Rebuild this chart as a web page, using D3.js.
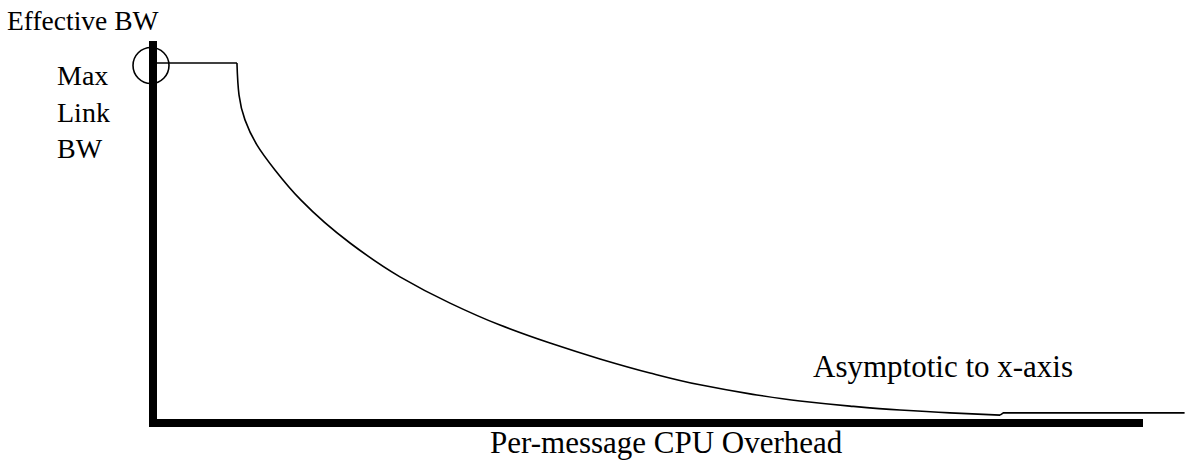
<!DOCTYPE html>
<html>
<head>
<meta charset="utf-8">
<script src="https://cdn.jsdelivr.net/npm/d3@7"></script>
<style>
  body { margin: 0; background: #fff; }
  svg text { font-family: "Liberation Serif", "Times New Roman", serif; fill: #000; }
</style>
</head>
<body>
<svg id="chart" width="1185" height="461"></svg>
<script>
// per-message overhead (x) vs effective bandwidth (y), % of full scale
const overhead = [0, 8.48, 8.69, 9.29, 10.51, 12.32, 14.95, 19.9, 24.95, 30.0, 35.05, 40.1, 45.15, 50.2, 55.25, 60.3, 65.35, 70.4, 75.45, 80.5, 85.56];
const bandwidth = [100, 100, 91.1, 84.2, 77.2, 70.3, 61.9, 50.0, 40.6, 33.3, 27.2, 22.2, 17.8, 13.9, 10.6, 8.1, 6.1, 4.7, 3.6, 2.8, 2.2];
// flat tail after the curve
const tailOverhead = [85.56, 85.9, 104.2];
const tailBandwidth = [2.2, 2.8, 2.8];

const svg = d3.select("#chart");

const x = d3.scaleLinear().domain([0, 100]).range([153, 1143]);
const y = d3.scaleLinear().domain([0, 100]).range([423, 63]);

const line = d3.line()
  .x(d => x(d[0]))
  .y(d => y(d[1]));

const pts = d3.zip(overhead, bandwidth);

// flat part at max link bw
svg.append("path")
  .attr("d", line(pts.slice(0, 2)))
  .attr("fill", "none")
  .attr("stroke", "#000")
  .attr("stroke-width", 1.6);

// falling curve
svg.append("path")
  .attr("d", line.curve(d3.curveMonotoneY)(pts.slice(1)))
  .attr("fill", "none")
  .attr("stroke", "#000")
  .attr("stroke-width", 1.6);

svg.append("path")
  .attr("d", line.curve(d3.curveLinear)(d3.zip(tailOverhead, tailBandwidth)))
  .attr("fill", "none")
  .attr("stroke", "#000")
  .attr("stroke-width", 1.6);

// thick axes
svg.append("line")
  .attr("x1", x(0)).attr("x2", x(0))
  .attr("y1", 41).attr("y2", y(0) + 4)
  .attr("stroke", "#000")
  .attr("stroke-width", 8);

svg.append("line")
  .attr("x1", x(0) - 4).attr("x2", x(100))
  .attr("y1", y(0)).attr("y2", y(0))
  .attr("stroke", "#000")
  .attr("stroke-width", 8);

// circle marking max
svg.append("circle")
  .attr("cx", x(0) - 2)
  .attr("cy", y(100) + 2.5)
  .attr("r", 18)
  .attr("fill", "none")
  .attr("stroke", "#000")
  .attr("stroke-width", 1.6);

svg.append("text")
  .attr("x", 7).attr("y", 30)
  .style("font-size", "27.5px")
  .text("Effective BW");

const maxLabel = svg.append("text")
  .style("font-size", "28px");
["Max", "Link", "BW"].forEach((t, i) => {
  maxLabel.append("tspan")
    .attr("x", 57)
    .attr("y", 85 + i * 36.5)
    .text(t);
});

svg.append("text")
  .attr("x", 813).attr("y", 377)
  .style("font-size", "31px")
  .text("Asymptotic to x-axis");

svg.append("text")
  .attr("x", 490).attr("y", 453)
  .style("font-size", "31px")
  .text("Per-message CPU Overhead");
</script>
</body>
</html>
